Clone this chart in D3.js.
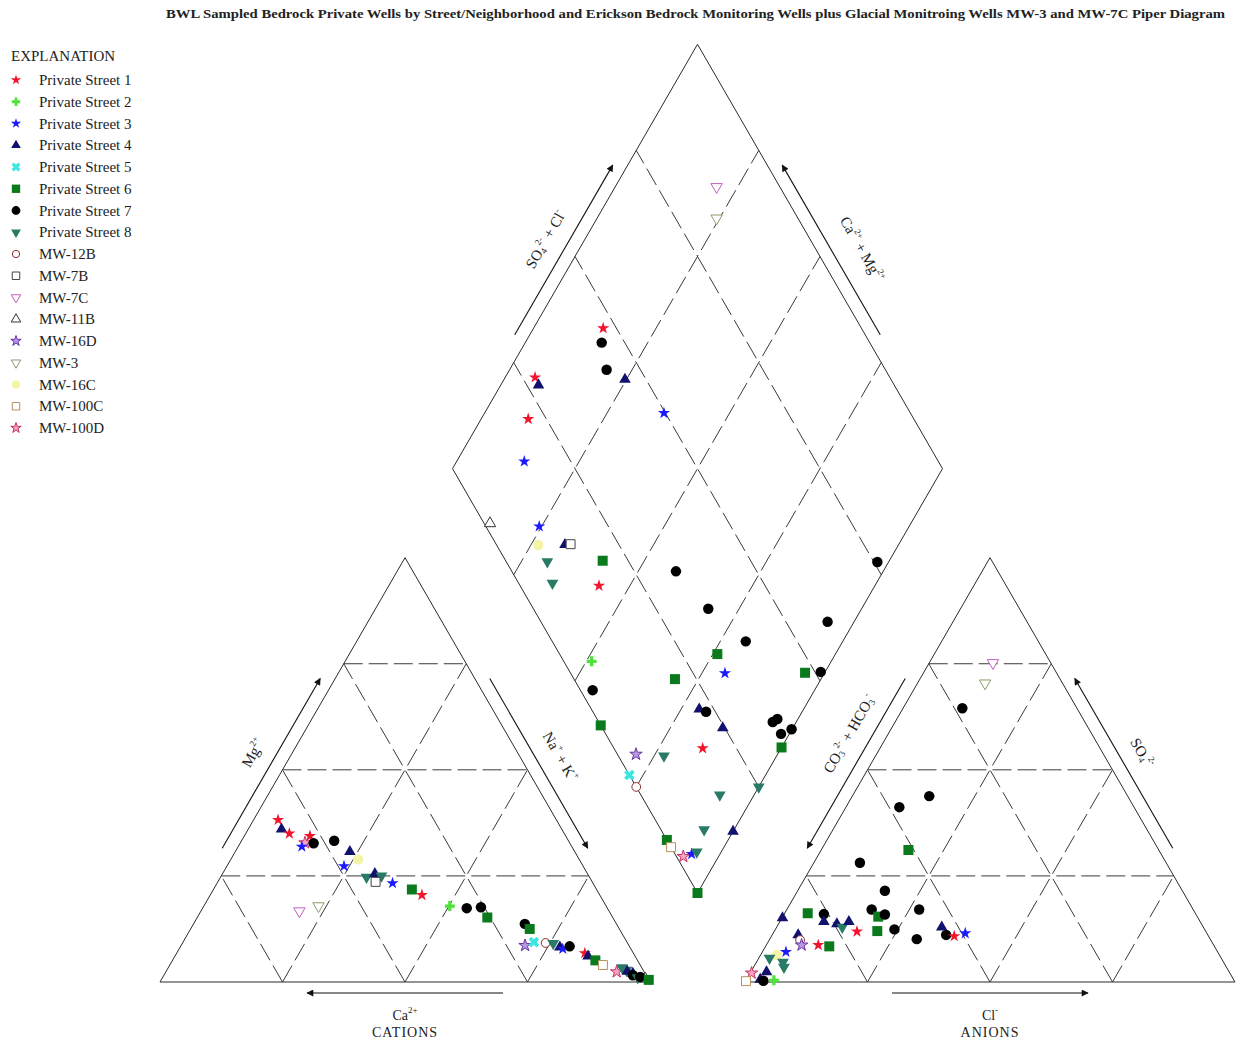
<!DOCTYPE html>
<html>
<head>
<meta charset="utf-8">
<script src="https://cdn.jsdelivr.net/npm/d3@7"></script>
<style>
body { margin: 0; background: #fff; }
text { font-family: "Liberation Serif", "Times New Roman", serif; fill: #222; }
</style>
</head>
<body>
<script>
// ---- data ----
var seriesNames = ["Private Street 1", "Private Street 2", "Private Street 3", "Private Street 4",
    "Private Street 5", "Private Street 6", "Private Street 7", "Private Street 8",
    "MW-12B", "MW-7B", "MW-7C", "MW-11B", "MW-16D", "MW-3", "MW-16C", "MW-100C", "MW-100D"];

var gridTicks = [25, 50, 75];

// cation triangle: [series index, Mg %, Na+K %]
var cationPoints = [
    [0,38.2,5.0],[3,36.0,6.8],[0,35.0,8.9],[0,34.4,13.4],[16,32.8,13.2],[2,31.9,13.0],[6,32.7,15.0],
    [6,33.3,18.9],[3,30.7,23.4],[14,28.9,26.0],[2,27.3,23.9],[7,24.7,29.8],[3,25.5,31.1],[7,25.0,32.7],
    [9,23.6,32.2],[2,23.3,35.8],[5,21.8,40.5],[0,20.5,43.2],[1,17.9,50.2],[6,17.4,53.9],[6,17.6,56.7],
    [10,16.7,20.1],[13,17.9,23.4],[5,15.2,59.2],[6,13.7,67.6],[5,12.5,69.2],[12,8.6,70.2],[4,9.4,71.6],
    [8,9.2,74.1],[7,9.1,75.7],[3,8.2,77.5],[2,7.8,78.3],[6,8.4,79.4],[0,6.8,83.3],[3,6.1,84.3],
    [5,5.1,86.3],[15,4.0,88.4],[11,0.8,98.6],[16,2.4,92.0],[7,3.4,92.6],[7,2.8,93.8],[3,2.5,94.1],
    [3,2.0,95.5],[6,1.6,95.7],[7,1.0,97.0],[6,1.2,97.4],[5,0.5,99.5]
];

// anion triangle: [series index, SO4 %, Cl %]
var anionPoints = [
    [10,75.2,13.0],[13,70.4,13.8],[6,64.5,12.1],[6,43.8,15.7],[6,41.2,10.9],[5,31.1,17.8],[6,28.1,9.4],
    [6,21.5,17.8],[6,17.1,27.0],[6,17.1,17.3],[5,15.4,19.5],[6,15.9,20.6],[5,16.2,4.7],[6,16.0,8.1],
    [3,15.1,0.1],[3,14.2,9.0],[3,13.7,11.9],[7,12.9,13.4],[3,14.2,14.1],[0,11.9,16.9],[5,12.0,21.0],
    [6,12.4,24.3],[6,10.1,30.0],[3,12.9,33.7],[6,11.1,35.5],[0,10.8,37.3],[2,11.5,39.2],[3,11.1,5.3],
    [8,9.9,6.3],[12,8.7,7.2],[0,8.7,10.6],[5,8.4,13.0],[2,7.1,4.8],[14,6.4,3.3],[7,5.6,2.2],
    [7,4.7,5.4],[7,3.5,6.2],[3,2.4,3.2],[16,2.1,0.3],[15,0.2,0.1],[3,0.6,2.8],[6,0.3,3.6],[1,0.4,5.7]
];

// diamond: [series index, SO4+Cl %, Ca+Mg %]
var diamondPoints = [
    [10,87.1,79.3],[13,83.4,75.6],[0,47.3,85.8],[6,45.3,84.4],[6,43.1,80.2],[3,45.7,75.3],[0,27.6,93.9],
    [3,27.4,92.3],[0,21.3,90.4],[2,49.7,63.4],[2,15.5,86.2],[11,1.2,85.9],[2,10.9,75.5],[14,8.5,73.5],
    [3,14.0,68.1],[9,15.2,67.0],[7,8.4,69.7],[5,19.8,58.5],[6,33.5,42.3],[6,75.7,2.3],[7,6.9,66.1],
    [0,16.1,56.3],[1,5.7,48.9],[6,2.5,45.3],[5,20.6,29.8],[5,32.2,24.1],[6,39.5,19.8],[2,31.5,20.3],
    [5,47.9,4.0],[6,51.2,0.9],[3,22.0,21.3],[6,23.1,19.6],[3,24.6,14.3],[6,35.5,4.8],[6,36.8,4.2],
    [6,35.8,1.7],[6,38.5,0.1],[5,0,39.5],[5,34.3,0],[0,18.1,16.0],[12,3.8,28.9],[7,9.3,23.0],
    [4,0,27.8],[8,0,25.0],[7,25.0,0],[7,16.1,7.0],[7,8.8,6.1],[3,14.5,0],[5,0,12.5],[15,0,10.8],
    [16,1.4,7.2],[2,3.4,5.8],[7,4.7,5.0],[5,0,0],[6,35.7,31.3],[6,58.5,5.4]
];

// ---- marker styles, one per series ----
var seriesStyle = [
    {type: d3.symbolStar, size: 46, fill: "#f2142c", stroke: "none"},
    {type: d3.symbolCross, size: 55, fill: "#4fe23a", stroke: "none"},
    {type: d3.symbolStar, size: 46, fill: "#1a1aff", stroke: "none"},
    {type: d3.symbolTriangle, size: 58, fill: "#12126e", stroke: "none"},
    {type: d3.symbolCross, size: 70, fill: "#3ce6e0", stroke: "none", rotate: 45},
    {type: d3.symbolSquare, size: 100, fill: "#0b7a1c", stroke: "none"},
    {type: d3.symbolCircle, size: 86, fill: "#000", stroke: "none"},
    {type: d3.symbolTriangle, size: 60, fill: "#2a7a68", stroke: "none", rotate: 180},
    {type: d3.symbolCircle, size: 60, fill: "#fff", stroke: "#8a2a2a"},
    {type: d3.symbolSquare, size: 80, fill: "#fff", stroke: "#444"},
    {type: d3.symbolTriangle, size: 56, fill: "#fff", stroke: "#c060c0", rotate: 180},
    {type: d3.symbolTriangle, size: 56, fill: "#fff", stroke: "#333"},
    {type: d3.symbolStar, size: 48, fill: "#b89ae0", stroke: "#6a34a8"},
    {type: d3.symbolTriangle, size: 56, fill: "#fff", stroke: "#8a9c6a", rotate: 180},
    {type: d3.symbolCircle, size: 84, fill: "#f4f4a6", stroke: "none"},
    {type: d3.symbolSquare, size: 80, fill: "#fff", stroke: "#b8905a"},
    {type: d3.symbolStar, size: 48, fill: "#f4a4c4", stroke: "#c83060"}
];

// ---- geometry ----
var side = 490, H = side * Math.sqrt(3) / 2;
var baseY = 982, catX0 = 160, anX0 = 745, dBottomY = 893, dMidX = 697.5;

var svg = d3.select("body").append("svg")
    .attr("width", 1237)
    .attr("height", 1043);

var catX = d3.scaleLinear().domain([0, 100]).range([catX0, catX0 + side]),
    anX = d3.scaleLinear().domain([0, 100]).range([anX0, anX0 + side]),
    triY = d3.scaleLinear().domain([0, 100]).range([baseY, baseY - H]),
    dX = d3.scaleLinear().domain([-100, 100]).range([dMidX - side / 2, dMidX + side / 2]),
    dY = d3.scaleLinear().domain([0, 200]).range([dBottomY, dBottomY - 2 * H]);

function catPos(mg, nak) { return [catX(nak + mg / 2), triY(mg)]; }
function anPos(so4, cl) { return [anX(cl + so4 / 2), triY(so4)]; }
function dPos(a, b) { return [dX(a - b), dY(a + b)]; }

var line = d3.line();

svg.append("defs").append("marker")
    .attr("id", "head")
    .attr("viewBox", "0 0 10 10")
    .attr("refX", 9).attr("refY", 5)
    .attr("markerWidth", 9).attr("markerHeight", 7)
    .attr("markerUnits", "userSpaceOnUse")
    .attr("orient", "auto")
    .append("path").attr("d", "M0,0L10,5L0,10z").attr("fill", "#111");

// title
svg.append("text")
    .attr("x", 166).attr("y", 18)
    .attr("textLength", 1059).attr("lengthAdjust", "spacingAndGlyphs")
    .style("font-size", "13px").style("font-weight", "bold")
    .text("BWL Sampled Bedrock Private Wells by Street/Neighborhood and Erickson Bedrock Monitoring Wells plus Glacial Monitroing Wells MW-3 and MW-7C Piper Diagram");

// ---- frames and grids ----
var gGrid = svg.append("g");

function drawPoly(pts) {
    gGrid.append("path")
        .attr("d", line(pts) + "Z")
        .attr("fill", "none").attr("stroke", "#2a2a2a").attr("stroke-width", 1);
}
function drawDash(p, q) {
    gGrid.append("path")
        .attr("d", line([p, q]))
        .attr("fill", "none").attr("stroke", "#3a3a3a").attr("stroke-width", 1)
        .attr("stroke-dasharray", "19,6");
}

gridTicks.forEach(function(v) {
    drawDash(catPos(v, 0), catPos(v, 100 - v));
    drawDash(catPos(0, v), catPos(100 - v, v));
    drawDash(catPos(0, 100 - v), catPos(100 - v, 0));
    drawDash(anPos(v, 0), anPos(v, 100 - v));
    drawDash(anPos(0, v), anPos(100 - v, v));
    drawDash(anPos(0, 100 - v), anPos(100 - v, 0));
    drawDash(dPos(v, 0), dPos(v, 100));
    drawDash(dPos(0, v), dPos(100, v));
});
drawPoly([catPos(0, 0), catPos(0, 100), catPos(100, 0)]);
drawPoly([anPos(0, 0), anPos(0, 100), anPos(100, 0)]);
drawPoly([dPos(0, 0), dPos(100, 0), dPos(100, 100), dPos(0, 100)]);

// ---- arrows and axis labels ----
function along(p, q, t) { return [p[0] + (q[0] - p[0]) * t, p[1] + (q[1] - p[1]) * t]; }
function outward(p, q, c, d) {
    var dx = q[0] - p[0], dy = q[1] - p[1], len = Math.sqrt(dx * dx + dy * dy);
    var nx = -dy / len, ny = dx / len;
    var m = along(p, q, 0.5);
    if ((c[0] - m[0]) * nx + (c[1] - m[1]) * ny > 0) { nx = -nx; ny = -ny; }
    return [nx * d, ny * d];
}
function arrow(p, q, c, t0, t1, off) {
    var o = outward(p, q, c, off);
    var a = along(p, q, t0), b = along(p, q, t1);
    gGrid.append("path")
        .attr("d", line([[a[0] + o[0], a[1] + o[1]], [b[0] + o[0], b[1] + o[1]]]))
        .attr("stroke", "#111").attr("stroke-width", 1.1)
        .attr("marker-end", "url(#head)");
}
function richLabel(x, y, angle, parts, fs) {
    fs = fs || 15;
    var t = svg.append("text")
        .attr("transform", "translate(" + x + "," + y + ") rotate(" + angle + ")")
        .attr("text-anchor", "middle")
        .attr("dominant-baseline", "middle")
        .style("font-size", fs + "px");
    var shift = 0;
    parts.forEach(function(p) {
        var want = p[1] === "sup" ? -6 : (p[1] === "sub" ? 3 : 0);
        t.append("tspan")
            .attr("dy", want - shift)
            .style("font-size", p[1] ? "9px" : fs + "px")
            .text(p[0]);
        shift = want;
    });
    return t;
}
function edgeLabel(p, q, c, t, off, angle, parts) {
    var o = outward(p, q, c, off), m = along(p, q, t);
    richLabel(m[0] + o[0], m[1] + o[1], angle, parts);
}

var catC = catPos(33.3, 33.3), anC = anPos(33.3, 33.3), dC = dPos(50, 50);

arrow(catPos(0, 0), catPos(0, 100), catC, 0.7, 0.3, 11);
arrow(catPos(0, 0), catPos(100, 0), catC, 0.3, 0.7, 13);
arrow(catPos(100, 0), catPos(0, 100), catC, 0.3, 0.7, 13);
arrow(anPos(0, 0), anPos(0, 100), anC, 0.3, 0.7, 11);
arrow(anPos(100, 0), anPos(0, 0), anC, 0.3, 0.7, 13);
arrow(anPos(0, 100), anPos(100, 0), anC, 0.3, 0.7, 13);
arrow(dPos(0, 100), dPos(100, 100), dC, 0.3, 0.7, 13);
arrow(dPos(100, 0), dPos(100, 100), dC, 0.3, 0.7, 13);

edgeLabel(catPos(0, 0), catPos(100, 0), catC, 0.5, 32, -60, [["Mg"], ["2+", "sup"]]);
edgeLabel(catPos(100, 0), catPos(0, 100), catC, 0.51, 33, 60, [["Na"], ["+", "sup"], [" + K"], ["+", "sup"]]);
edgeLabel(anPos(100, 0), anPos(0, 0), anC, 0.455, 32, -60,
    [["CO"], ["3", "sub"], ["2-", "sup"], [" + HCO"], ["3", "sub"], ["-", "sup"]]);
edgeLabel(anPos(0, 100), anPos(100, 0), anC, 0.5, 32, 60, [["SO"], ["4", "sub"], ["2-", "sup"]]);
edgeLabel(dPos(0, 100), dPos(100, 100), dC, 0.5, 32, -60,
    [["SO"], ["4", "sub"], ["2-", "sup"], [" + Cl"], ["-", "sup"]]);
edgeLabel(dPos(100, 0), dPos(100, 100), dC, 0.47, 38, 60,
    [["Ca"], ["2+", "sup"], [" + Mg"], ["2+", "sup"]]);

richLabel(catX(50), 1017, 0, [["Ca"], ["2+", "sup"]], 14);
richLabel(anX(50), 1017, 0, [["Cl"], ["-", "sup"]], 14);
svg.append("text").attr("x", catX(50)).attr("y", 1037).attr("text-anchor", "middle")
    .style("font-size", "14px").style("letter-spacing", "1px").text("CATIONS");
svg.append("text").attr("x", anX(50)).attr("y", 1037).attr("text-anchor", "middle")
    .style("font-size", "14px").style("letter-spacing", "1px").text("ANIONS");

// ---- points ----
function symbolPath(i, scale) {
    var s = seriesStyle[i];
    return d3.symbol().type(s.type).size(s.size * (scale || 1))();
}
function drawPoints(data, pos) {
    svg.append("g").selectAll("path")
        .data(data)
        .enter().append("path")
        .attr("d", function(d) { return symbolPath(d[0]); })
        .attr("transform", function(d) {
            var p = pos(d[1], d[2]);
            return "translate(" + p[0] + "," + p[1] + ") rotate(" + (seriesStyle[d[0]].rotate || 0) + ")";
        })
        .attr("fill", function(d) { return seriesStyle[d[0]].fill; })
        .attr("stroke", function(d) { return seriesStyle[d[0]].stroke; })
        .attr("stroke-width", 1);
}
drawPoints(cationPoints, catPos);
drawPoints(anionPoints, anPos);
drawPoints(diamondPoints, dPos);

// ---- legend ----
var legend = svg.append("g");
legend.append("text").attr("x", 11).attr("y", 61).style("font-size", "15px").text("EXPLANATION");
var legendY = d3.scalePoint().domain(d3.range(seriesNames.length)).range([80, 428]);
var rows = legend.selectAll(".row")
    .data(seriesNames)
    .enter().append("g")
    .attr("class", "row")
    .attr("transform", function(d, i) { return "translate(0," + legendY(i) + ")"; });
rows.append("path")
    .attr("d", function(d, i) { return symbolPath(i, 0.7); })
    .attr("transform", function(d, i) { return "translate(16,0) rotate(" + (seriesStyle[i].rotate || 0) + ")"; })
    .attr("fill", function(d, i) { return seriesStyle[i].fill; })
    .attr("stroke", function(d, i) { return seriesStyle[i].stroke; });
rows.append("text")
    .attr("x", 39).attr("y", 5)
    .style("font-size", "15px")
    .text(function(d) { return d; });
</script>
</body>
</html>
